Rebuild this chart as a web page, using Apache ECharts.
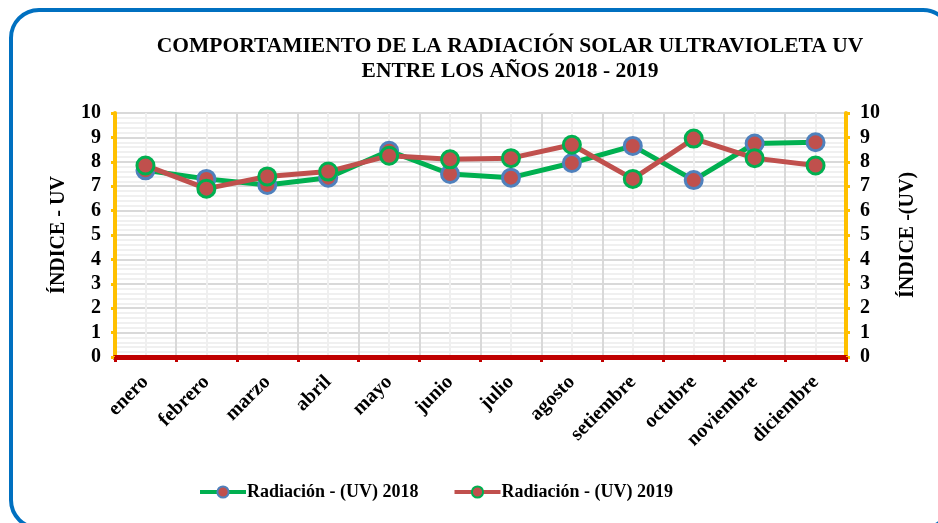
<!DOCTYPE html>
<html>
<head>
<meta charset="utf-8">
<script src="https://cdn.jsdelivr.net/npm/echarts@6/dist/echarts.min.js"></script>
<style>
  html, body { margin: 0; padding: 0; background: #fff; }
  #main { width: 938px; height: 523px; }
</style>
</head>
<body>
<div id="main"></div>
<script>
// meses
var meses = ['enero', 'febrero', 'marzo', 'abril', 'mayo', 'junio', 'julio',
  'agosto', 'setiembre', 'octubre', 'noviembre', 'diciembre'];
// índice UV por año
var uv2018 = [7.65, 7.3, 7.05, 7.35, 8.45, 7.5, 7.35, 7.95, 8.65, 7.25, 8.75, 8.8];
var uv2019 = [7.85, 6.9, 7.4, 7.6, 8.25, 8.1, 8.15, 8.7, 7.3, 8.95, 8.15, 7.85];
var yTicks = [0, 10, 1];

var fuente = '"Liberation Serif", "Times New Roman", serif';
var verde = '#00B050', rojo = '#C0504D', azul = '#4F81BD', amarillo = '#FFC000';

var myChart = echarts.init(document.getElementById('main'));

function ejeY(pos) {
  return {
    type: 'value',
    position: pos,
    min: yTicks[0],
    max: yTicks[1],
    interval: yTicks[2],
    name: pos == 'left' ? 'ÍNDICE - UV' : 'ÍNDICE -(UV)',
    nameLocation: 'middle',
    nameRotate: 90,
    nameGap: pos == 'left' ? 46 : 52,
    nameTextStyle: { fontFamily: fuente, fontWeight: 'bold', fontSize: 20, color: '#000' },
    axisLine: { show: true, lineStyle: { color: amarillo, width: 4 } },
    axisTick: { show: true, length: 4, lineStyle: { color: amarillo, width: 3 } },
    axisLabel: { fontFamily: fuente, fontWeight: 'bold', fontSize: 20, color: '#000', margin: 14 },
    splitLine: { show: pos == 'left', lineStyle: { color: '#d9d9d9', width: 2 } },
    minorTick: { show: false, splitNumber: 5 },
    minorSplitLine: { show: pos == 'left', lineStyle: { color: '#ececec', width: 1.5 } }
  };
}

var option = {
  animation: false,
  backgroundColor: '#fff',
  title: {
    text: 'COMPORTAMIENTO DE LA RADIACIÓN SOLAR ULTRAVIOLETA UV\nENTRE LOS AÑOS 2018 - 2019',
    left: 505,
    top: 29,
    textAlign: 'center',
    textStyle: { fontFamily: fuente, fontWeight: 'bold', fontSize: 21.5, lineHeight: 25, color: '#000' }
  },
  legend: {
    bottom: 17,
    left: 193,
    itemWidth: 46,
    itemHeight: 14,
    itemGap: 34,
    lineStyle: { width: 4 },
    textStyle: { fontFamily: fuente, fontWeight: 'bold', fontSize: 18, color: '#000', padding: [0, 0, 0, -4] },
    data: ['Radiación - (UV) 2018', 'Radiación - (UV) 2019']
  },
  grid: { left: 115, right: 92, top: 113, bottom: 166 },
  xAxis: [{
    type: 'category',
    data: meses,
    boundaryGap: true,
    axisLine: { show: true, lineStyle: { color: '#C00000', width: 5 } },
    axisTick: { show: true, length: 5, lineStyle: { color: '#C00000', width: 3 } },
    axisLabel: { rotate: 45, interval: 0, margin: 22, fontFamily: fuente, fontWeight: 'bold', fontSize: 20, color: '#000' },
    splitLine: { show: false }
  }, {
    // líneas verticales de la cuadrícula (bordes y centros de categoría)
    type: 'value',
    min: 0,
    max: 12,
    interval: 0.5,
    show: true,
    position: 'bottom',
    axisLine: { show: false },
    axisTick: { show: false },
    axisLabel: { show: false },
    splitLine: { show: true, lineStyle: { color: ['#d9d9d9', '#efefef'], width: 2 } }
  }],
  yAxis: [ejeY('left'), ejeY('right')],
  series: [{
    name: 'Radiación - (UV) 2018',
    type: 'line',
    data: uv2018,
    symbol: 'circle',
    symbolSize: 17,
    lineStyle: { color: verde, width: 5 },
    itemStyle: { color: rojo, borderColor: azul, borderWidth: 3 },
    z: 3
  }, {
    name: 'Radiación - (UV) 2019',
    type: 'line',
    data: uv2019,
    symbol: 'circle',
    symbolSize: 17,
    lineStyle: { color: rojo, width: 5 },
    itemStyle: { color: rojo, borderColor: verde, borderWidth: 3 },
    z: 4
  }],
  graphic: [{
    type: 'rect',
    shape: { x: 11, y: 10, width: 940, height: 518, r: 28 },
    style: { fill: 'none', stroke: '#0070C0', lineWidth: 4 },
    silent: true,
    z: 100
  }]
};

myChart.setOption(option, true);
</script>
</body>
</html>
